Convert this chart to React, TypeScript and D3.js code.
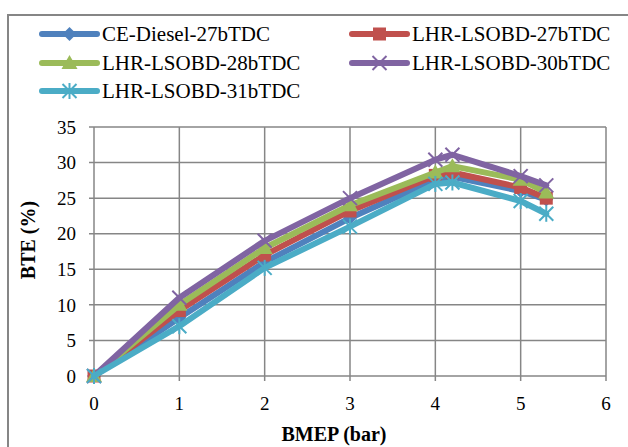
import React from "react";
import * as d3 from "d3";

const bmep = [0, 1, 2, 3, 4, 4.2, 5, 5.3];
const ceDiesel27 = [0, 8.2, 16, 22.2, 27.6, 28, 26, 24.8];
const lhr27 = [0, 9.2, 17, 23.2, 28.2, 28.6, 26.5, 25];
const lhr28 = [0, 10, 18, 24, 28.6, 29.5, 27.6, 25.8];
const lhr30 = [0, 11, 19, 25, 30.4, 31.1, 28.1, 26.8];
const lhr31 = [0, 7, 15.2, 21, 27, 27.2, 24.6, 22.8];

const seriesNames = [
  "CE-Diesel-27bTDC",
  "LHR-LSOBD-27bTDC",
  "LHR-LSOBD-28bTDC",
  "LHR-LSOBD-30bTDC",
  "LHR-LSOBD-31bTDC",
];
const seriesValues = [ceDiesel27, lhr27, lhr28, lhr30, lhr31];
const colors = ["#4F81BD", "#C0504D", "#9BBB59", "#8064A2", "#4BACC6"];
const markers = ["diamond", "square", "triangle", "x", "asterisk"];
const xTicks = [0, 1, 2, 3, 4, 5, 6];
const yTicks = [0, 5, 10, 15, 20, 25, 30, 35];

const FONT = "'Liberation Serif', 'Times New Roman', serif";
const GRID = "#868686";

function Marker({ type, x, y, color }: { type: string; x: number; y: number; color: string }) {
  if (type === "diamond") {
    const s = 7;
    return <path d={`M${x},${y - s} L${x + s},${y} L${x},${y + s} L${x - s},${y} Z`} fill={color} />;
  }
  if (type === "square") {
    return <rect x={x - 6.5} y={y - 6.5} width={13} height={13} fill={color} />;
  }
  if (type === "triangle") {
    return <path d={`M${x},${y - 8} L${x + 8},${y + 6} L${x - 8},${y + 6} Z`} fill={color} />;
  }
  if (type === "x") {
    const s = 7;
    return (
      <g stroke={color} strokeWidth={2}>
        <line x1={x - s} y1={y - s} x2={x + s} y2={y + s} />
        <line x1={x - s} y1={y + s} x2={x + s} y2={y - s} />
      </g>
    );
  }
  const s = 7;
  return (
    <g stroke={color} strokeWidth={2}>
      <line x1={x - s} y1={y - s} x2={x + s} y2={y + s} />
      <line x1={x - s} y1={y + s} x2={x + s} y2={y - s} />
      <line x1={x} y1={y - 8} x2={x} y2={y + 8} />
    </g>
  );
}

export default function App() {
  const W = 628;
  const H = 447;
  const x = d3.scaleLinear().domain([0, 6]).range([94, 606]);
  const y = d3.scaleLinear().domain([0, 35]).range([376, 127]);
  const line = d3
    .line<[number, number]>()
    .x((d) => x(d[0]))
    .y((d) => y(d[1]));

  const legendPos = [
    [42, 34],
    [352, 34],
    [42, 63],
    [352, 63],
    [42, 91],
  ];

  return (
    <svg width={W} height={H} style={{ position: "absolute", left: 0, top: 0 }}>
      <rect x={0} y={0} width={W} height={H} fill="#fff" />
      <rect x={8} y={15} width={640} height={460} fill="#fff" stroke={GRID} strokeWidth={2} />
      {/* grid */}
      {xTicks.map((t) => (
        <line key={"gx" + t} x1={x(t)} x2={x(t)} y1={y(35)} y2={y(0) + 5} stroke={GRID} strokeWidth={1.5} />
      ))}
      {yTicks.map((t) => (
        <line key={"gy" + t} x1={x(0) - 5} x2={x(6)} y1={y(t)} y2={y(t)} stroke={GRID} strokeWidth={1.5} />
      ))}
      {/* tick labels */}
      {yTicks.map((t) => (
        <text key={"ty" + t} x={76} y={y(t)} dy="0.35em" textAnchor="end" fontFamily={FONT} fontSize={19}>
          {t}
        </text>
      ))}
      {xTicks.map((t) => (
        <text key={"tx" + t} x={x(t)} y={410} textAnchor="middle" fontFamily={FONT} fontSize={19}>
          {t}
        </text>
      ))}
      <text x={334} y={441} textAnchor="middle" fontFamily={FONT} fontSize={20} fontWeight="bold">
        BMEP (bar)
      </text>
      <text
        transform={`translate(35,${240}) rotate(-90)`}
        textAnchor="middle"
        fontFamily={FONT}
        fontSize={20}
        fontWeight="bold"
      >
        BTE (%)
      </text>
      {/* series */}
      {seriesValues.map((vals, i) => {
        const pts = bmep.map((b, j) => [b, vals[j]] as [number, number]);
        return (
          <g key={"s" + i}>
            <path d={line(pts) || ""} fill="none" stroke={colors[i]} strokeWidth={6} strokeLinejoin="round" strokeLinecap="round" />
            {pts.map((p, j) => (
              <Marker key={j} type={markers[i]} x={x(p[0])} y={y(p[1])} color={colors[i]} />
            ))}
          </g>
        );
      })}
      {/* legend */}
      {seriesNames.map((name, i) => {
        const [lx, ly] = legendPos[i];
        return (
          <g key={"l" + i}>
            <line x1={lx} x2={lx + 55} y1={ly} y2={ly} stroke={colors[i]} strokeWidth={6} strokeLinecap="round" />
            <Marker type={markers[i]} x={lx + 27.5} y={ly} color={colors[i]} />
            <text x={lx + 60} y={ly} dy="0.35em" fontFamily={FONT} fontSize={21}>
              {name}
            </text>
          </g>
        );
      })}
    </svg>
  );
}
